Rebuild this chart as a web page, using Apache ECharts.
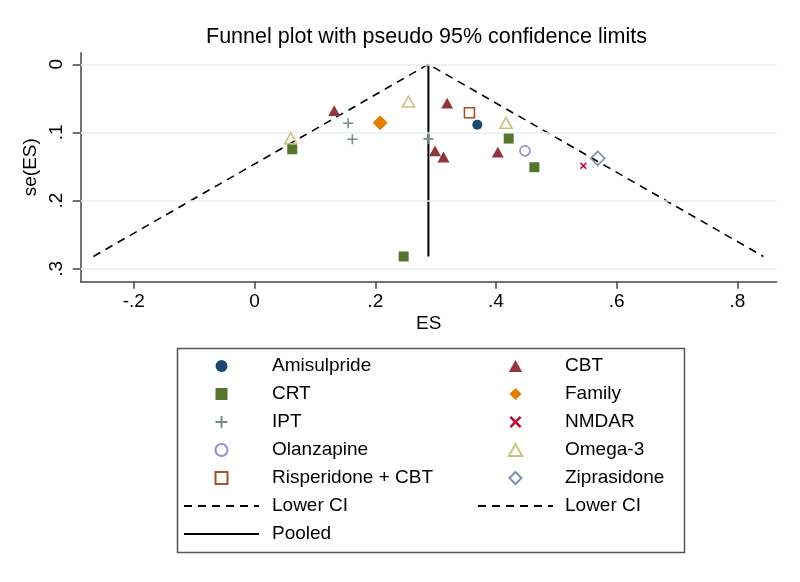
<!DOCTYPE html>
<html>
<head>
<meta charset="utf-8">
<script src="https://cdn.jsdelivr.net/npm/echarts@6/dist/echarts.min.js"></script>
<style>html,body{margin:0;padding:0;background:#fff}#c{width:800px;height:582px}</style>
</head>
<body>
<div id="c"></div>
<script>
// ---- data (ES, se(ES)) ----
const amisulpride = [[0.369, 0.0886]];
const cbt = [[0.132, 0.068], [0.319, 0.057], [0.299, 0.127], [0.313, 0.136], [0.403, 0.129]];
const crt = [[0.0625, 0.1247], [0.247, 0.282], [0.421, 0.109], [0.4635, 0.151]];
const family = [[0.208, 0.0856]];
const ipt = [[0.155, 0.0866], [0.162, 0.110], [0.288, 0.1095]];
const nmdar = [[0.5447, 0.149]];
const olanzapine = [[0.448, 0.127]];
const omega3 = [[0.060, 0.1085], [0.255, 0.0548], [0.4166, 0.086]];
const risperidoneCbt = [[0.356, 0.071]];
const ziprasidone = [[0.5685, 0.138]];
// funnel (pseudo 95% CI) and pooled estimate
const ciLine = [[-0.267, 0.282], [0.288, 0], [0.843, 0.282]];
const pooledLine = [[0.288, 0], [0.288, 0.282]];
// ticks
const xTicks = [-0.2, 0, 0.2, 0.4, 0.6, 0.8];
const xTickLabels = ['-.2', '0', '.2', '.4', '.6', '.8'];
const yTicks = [0, 0.1, 0.2, 0.3];
const yTickLabels = ['0', '.1', '.2', '.3'];
const legendCol1 = ['Amisulpride', 'CRT', 'IPT', 'Olanzapine', 'Risperidone + CBT', 'Lower CI', 'Pooled'];
const legendCol2 = ['CBT', 'Family', 'NMDAR', 'Omega-3', 'Ziprasidone', 'Lower CI'];

const FONT = "'Liberation Sans', Arial, Helvetica, sans-serif";
const AX = '#444';
const plusPath = 'path://M4.2,0H5.8V4.2H10V5.8H5.8V10H4.2V5.8H0V4.2H4.2Z';
const xPath = 'path://M0,1.5L1.5,0L5,3.5L8.5,0L10,1.5L6.5,5L10,8.5L8.5,10L5,6.5L1.5,10L0,8.5L3.5,5Z';
const triPath = 'path://M5,0L10,9L0,9Z';
const sqPath = 'path://M0,0H10V10H0Z';
const diaPath = 'path://M5,0L10,5L5,10L0,5Z';

function fmt(list, labels) {
  return function (v) {
    for (let i = 0; i < list.length; i++) if (Math.abs(list[i] - v) < 1e-9) return labels[i];
    return '';
  };
}

function scatter(name, data, symbol, size, color, hollow) {
  return {
    name: name, type: 'scatter', data: data, symbol: symbol, symbolSize: size, z: 5,
    symbolKeepAspect: true,
    itemStyle: hollow ? { color: 'rgba(255,255,255,0)', borderColor: color, borderWidth: 1.6, opacity: 1 }
                      : { color: color, borderWidth: 0, opacity: 1 },
    emphasis: { disabled: true }
  };
}

const chart = echarts.init(document.getElementById('c'), null, { renderer: 'canvas' });
const legendBase = {
  orient: 'vertical', padding: 0, itemWidth: 75, itemHeight: 12, itemGap: 8,
  selectedMode: false, top: 356, symbolKeepAspect: true,
  textStyle: { fontFamily: FONT, fontSize: 19, color: '#000', lineHeight: 20 }
};
chart.setOption({
  animation: false,
  backgroundColor: '#fff',
  textStyle: { fontFamily: FONT },
  title: {
    text: 'Funnel plot with pseudo 95% confidence limits',
    left: 206, top: 26, padding: 0,
    textStyle: { fontFamily: FONT, fontSize: 21.5, fontWeight: 'normal', color: '#000' }
  },
  grid: { left: 80.7, right: 23.3, top: 52.7, bottom: 300.3 },
  xAxis: {
    type: 'value', min: -0.288, max: 0.865,
    name: 'ES', nameLocation: 'middle', nameGap: 33,
    nameTextStyle: { fontFamily: FONT, fontSize: 19, color: '#000' },
    axisLine: { show: true, onZero: false, lineStyle: { color: AX, width: 1.5 } },
    axisTick: { show: true, length: 7, customValues: xTicks, lineStyle: { color: AX, width: 1.5 } },
    axisLabel: { customValues: xTicks, formatter: fmt(xTicks, xTickLabels), fontFamily: FONT, fontSize: 19, color: '#000', margin: 11 },
    splitLine: { show: false }
  },
  yAxis: {
    type: 'value', inverse: true, min: -0.017, max: 0.319,
    name: 'se(ES)', nameLocation: 'middle', nameGap: 34, nameRotate: 90,
    nameTextStyle: { fontFamily: FONT, fontSize: 19, color: '#000' },
    axisLine: { show: true, onZero: false, lineStyle: { color: AX, width: 1.5 } },
    axisTick: { show: true, length: 8, customValues: yTicks, lineStyle: { color: AX, width: 1.5 } },
    axisLabel: { customValues: yTicks, formatter: fmt(yTicks, yTickLabels), rotate: 90, fontFamily: FONT, fontSize: 19, color: '#000', margin: 14 },
    splitLine: { show: false }
  },
  legend: [
    Object.assign({}, legendBase, { left: 183, data: legendCol1,
      textStyle: Object.assign({}, legendBase.textStyle, { padding: [0, 0, 0, 8] }) }),
    Object.assign({}, legendBase, { left: 477, data: legendCol2,
      textStyle: Object.assign({}, legendBase.textStyle, { padding: [0, 0, 0, 7] }) })
  ],
  graphic: [{
    type: 'rect', left: 175, top: 346, silent: true,
    shape: { width: 507, height: 204 },
    style: { fill: 'none', stroke: '#555', lineWidth: 1.5 }
  }],
  series: [
    {
      name: 'Lower CI', type: 'line', data: ciLine, symbol: 'none', z: 3, silent: true,
      itemStyle: { color: 'rgba(0,0,0,0)' },
      lineStyle: { color: '#000', width: 1.6, type: [8, 6] },
      markLine: {
        silent: true, symbol: 'none', label: { show: false },
        lineStyle: { color: '#e6eff1', width: 1.5, type: 'solid' },
        data: yTicks.map(function (v) { return { yAxis: v }; })
      }
    },
    {
      name: 'Pooled', type: 'line', data: pooledLine, symbol: 'none', z: 3, silent: true,
      itemStyle: { color: 'rgba(0,0,0,0)' },
      lineStyle: { color: '#000', width: 2, type: 'solid' }
    },
    scatter('Amisulpride', amisulpride, 'circle', 10, '#1a476f', false),
    scatter('CBT', cbt, triPath, 12, '#90353b', false),
    scatter('CRT', crt, sqPath, 10, '#55752f', false),
    scatter('Family', family, diaPath, 15, '#e37e00', false),
    scatter('IPT', ipt, plusPath, 10, '#6e8e84', false),
    scatter('NMDAR', nmdar, xPath, 7, '#c10534', false),
    scatter('Olanzapine', olanzapine, 'circle', 10, '#938dd2', true),
    scatter('Omega-3', omega3, triPath, 12, '#cac27e', true),
    scatter('Risperidone + CBT', risperidoneCbt, sqPath, 10, '#a0522d', true),
    scatter('Ziprasidone', ziprasidone, diaPath, 14, '#7b92a8', true)
  ]
});
</script>
</body>
</html>
